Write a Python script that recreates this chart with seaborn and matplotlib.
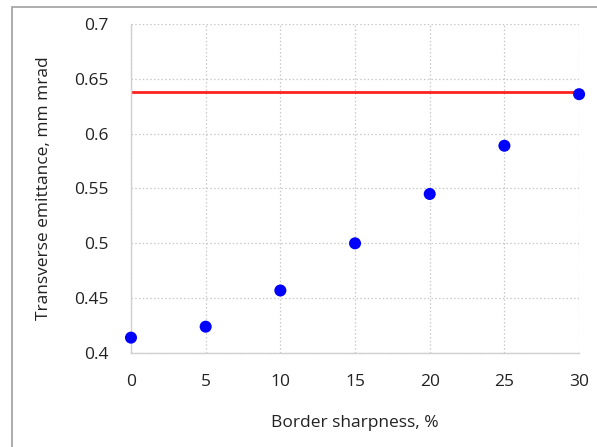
import matplotlib
matplotlib.use("Agg")
import matplotlib.pyplot as plt
import seaborn as sns
import pandas as pd
from matplotlib.patches import Rectangle

sharpness = [0, 5, 10, 15, 20, 25, 30]
emittance = [0.414, 0.424, 0.457, 0.500, 0.545, 0.589, 0.636]
limit_level = 0.638
x_ticks = [0, 5, 10, 15, 20, 25, 30]
y_ticks = [0.4, 0.45, 0.5, 0.55, 0.6, 0.65, 0.7]
y_tick_labels = ["0.4", "0.45", "0.5", "0.55", "0.6", "0.65", "0.7"]

sns.set_style("white")
plt.rcParams['font.family'] = ['Open Sans', 'DejaVu Sans']

df = pd.DataFrame({'x': sharpness, 'y': emittance})

fig = plt.figure(figsize=(5.97, 4.47), dpi=100)
ax = fig.add_axes([0.2194, 0.2103, 0.7506, 0.7360])

# outer frame like the pasted chart box
fig.patches.append(Rectangle((12 / 597, -0.01), 1.0, 1 - 7 / 447 + 0.01,
                             transform=fig.transFigure, fill=False,
                             edgecolor='#a0a0a0', linewidth=1.2))

ax.plot([sharpness[0], sharpness[-1]], [limit_level, limit_level],
        color='#ff2020', linewidth=2, zorder=2)
sns.scatterplot(data=df, x='x', y='y', ax=ax, color='#0000ff', s=75,
                edgecolor='none', zorder=3, clip_on=False)

ax.set_xlim(0, 30)
ax.set_ylim(0.4, 0.7)
ax.set_xticks(x_ticks)
ax.set_yticks(y_ticks)
ax.set_yticklabels(y_tick_labels)
ax.grid(True, linestyle=(0, (1.2, 1.8)), color='#c8c8c8', linewidth=0.9)
for side in ['top', 'right']:
    ax.spines[side].set_visible(False)
for side in ['left', 'bottom']:
    ax.spines[side].set_color('#d0d0d0')
    ax.spines[side].set_linewidth(1)
ax.tick_params(axis='both', length=0, labelsize=12.5, colors='#222222')
ax.tick_params(axis='y', pad=16)
ax.tick_params(axis='x', pad=15)

ax.set_xlabel("Border sharpness, %", fontsize=12.5, color='#222222', labelpad=18)
ax.set_ylabel("Transverse emittance, mm mrad", fontsize=12.5, color='#222222', labelpad=16)

fig.savefig("out.png", dpi=100)
